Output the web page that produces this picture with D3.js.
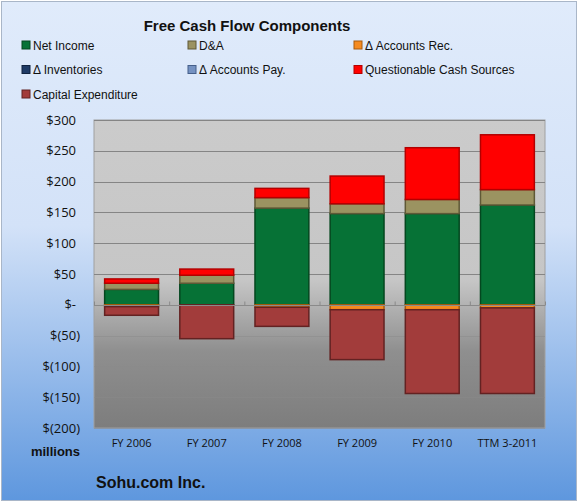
<!DOCTYPE html>
<html>
<head>
<meta charset="utf-8">
<script src="https://cdn.jsdelivr.net/npm/d3@7"></script>
<style>
  body { margin: 0; background: #fff; }
  svg { display: block; font-family: "Liberation Sans", Arial, sans-serif; }
</style>
</head>
<body>
<script>
const width = 578;
const height = 502;

// data, $ millions
const periods = ["FY 2006", "FY 2007", "FY 2008", "FY 2009", "FY 2010", "TTM 3-2011"];
const netIncome = [25, 35, 157, 148, 148, 162];
const depAmort = [10, 13, 17, 16, 23, 25];
const accountsRec = [-3, 0, -4, -8, -8, -5];
const inventories = [0, 0, 0, 0, 0, 0];
const accountsPay = [0, 0, 0, 0, 0, 0];
const questionable = [7, 10, 15, 45, 84, 89];
const capex = [-14, -55, -31, -81, -136, -139];
const yTicks = [-200, -150, -100, -50, 0, 50, 100, 150, 200, 250, 300];

const seriesNames = ["Net Income", "D&A", "\u0394 Accounts Rec.", "\u0394 Inventories",
  "\u0394 Accounts Pay.", "Questionable Cash Sources", "Capital Expenditure"];
const seriesValues = [netIncome, depAmort, accountsRec, inventories, accountsPay, questionable, capex];
const colors = ["#067236", "#9b9361", "#f58a1f", "#1f3b66", "#7592c2", "#ff0000", "#a23c3b"];
const strokes = ["#04471f", "#5f5937", "#a85a0c", "#10223f", "#455f8a", "#b30000", "#632222"];

const rows = periods.map((p, i) => {
  const r = { period: p };
  seriesNames.forEach((s, j) => r[s] = seriesValues[j][i]);
  return r;
});

const plot = { left: 94, right: 545, top: 120, bottom: 428 };

const svg = d3.select("body").append("svg")
  .attr("width", width).attr("height", height);

const defs = svg.append("defs");
const bg = defs.append("linearGradient").attr("id", "bg")
  .attr("x1", 0).attr("y1", 0).attr("x2", 0).attr("y2", 1);
bg.append("stop").attr("offset", "0%").attr("stop-color", "#e0ebfb");
bg.append("stop").attr("offset", "45%").attr("stop-color", "#d3e2f8");
bg.append("stop").attr("offset", "100%").attr("stop-color", "#5e97de");

const pg = defs.append("linearGradient").attr("id", "pg")
  .attr("x1", 0).attr("y1", 0).attr("x2", 0).attr("y2", 1);
pg.append("stop").attr("offset", "0%").attr("stop-color", "#cbcbcb");
pg.append("stop").attr("offset", "52%").attr("stop-color", "#c6c6c6");
pg.append("stop").attr("offset", "75%").attr("stop-color", "#8f8f8f");
pg.append("stop").attr("offset", "100%").attr("stop-color", "#7d7d7d");

svg.append("rect").attr("x", 1.5).attr("y", 1.5)
  .attr("width", width - 3).attr("height", height - 3)
  .attr("fill", "url(#bg)").attr("stroke", "#a9b6c8");

const x = d3.scaleBand().domain(periods)
  .range([plot.left, plot.right]).paddingInner(0.27).paddingOuter(0.135);
const y = d3.scaleLinear().domain([-200, 300]).range([plot.bottom, plot.top]);

svg.append("rect")
  .attr("x", plot.left).attr("y", plot.top)
  .attr("width", plot.right - plot.left).attr("height", plot.bottom - plot.top)
  .attr("fill", "url(#pg)").attr("stroke", "#a0a0a0");

// gridlines
svg.append("g").selectAll("line").data(yTicks.filter(t => t !== 0)).join("line")
  .attr("x1", plot.left).attr("x2", plot.right)
  .attr("y1", d => Math.round(y(d)) + 0.5).attr("y2", d => Math.round(y(d)) + 0.5)
  .attr("stroke", d => d > 0 ? "#858585" : "#8a8a8a")
  .attr("stroke-opacity", d => d > 0 ? 1 : 0.5);

// y axis labels (accounting style: positives leave room for the closing paren)
const fmt = d => d === 0 ? "$-" : d < 0 ? "$(" + (-d) + ")" : "$" + d;
const yAxis = d3.axisLeft(y).tickValues(yTicks).tickFormat(fmt).tickSize(0).tickPadding(14);
svg.append("g").attr("transform", "translate(" + plot.left + ",0)").call(yAxis)
  .call(g => g.select(".domain").remove())
  .call(g => g.selectAll("text").attr("font-size", 13).attr("fill", "#111")
    .attr("font-family", "'Open Sans', sans-serif")
    .attr("dx", d => d < 0 ? 0 : -4));

// stacked bars
const stack = d3.stack().keys(seriesNames).offset(d3.stackOffsetDiverging);
const layers = stack(rows);

svg.append("g").selectAll("g").data(layers).join("g")
  .attr("fill", (d, i) => colors[i])
  .attr("stroke", (d, i) => strokes[i])
  .selectAll("rect").data(d => d.filter(v => v[1] - v[0] !== 0)).join("rect")
  .attr("x", d => x(d.data.period) + 0.5)
  .attr("y", d => y(d[1]))
  .attr("width", x.bandwidth() - 1)
  .attr("height", d => y(d[0]) - y(d[1]))
  .attr("stroke-width", 1.5);

// zero axis with category ticks
const zeroY = Math.round(y(0)) + 0.5;
svg.append("line").attr("x1", plot.left).attr("x2", plot.right)
  .attr("y1", zeroY).attr("y2", zeroY).attr("stroke", "#8a8a8a");
svg.append("g").selectAll("line").data(d3.range(periods.length + 1)).join("line")
  .attr("x1", i => plot.left + i * x.step() + 0.5)
  .attr("x2", i => plot.left + i * x.step() + 0.5)
  .attr("y1", zeroY).attr("y2", zeroY - 4).attr("stroke", "#8a8a8a");

// x labels
const xAxis = d3.axisBottom(x).tickSize(0).tickPadding(11);
svg.append("g").attr("transform", "translate(0," + plot.bottom + ")").call(xAxis)
  .call(g => g.select(".domain").remove())
  .call(g => g.selectAll("text").attr("font-size", 11).attr("fill", "#111")
    .attr("font-family", "'Open Sans', sans-serif"));

// titles
svg.append("text").attr("x", 247).attr("y", 31).attr("text-anchor", "middle")
  .attr("font-size", 15).attr("font-weight", "bold").attr("fill", "#111")
  .text("Free Cash Flow Components");
svg.append("text").attr("x", 80).attr("y", 456).attr("text-anchor", "end")
  .attr("font-size", 13).attr("font-weight", "bold").attr("fill", "#111")
  .text("millions");
svg.append("text").attr("x", 96).attr("y", 488)
  .attr("font-size", 16).attr("font-weight", "bold").attr("fill", "#111")
  .text("Sohu.com Inc.");

// legend
const legend = svg.append("g").selectAll("g").data(seriesNames).join("g")
  .attr("transform", (d, i) => "translate(" + [22, 188, 354][i % 3] + "," + (45 + Math.floor(i / 3) * 24.5) + ")");
legend.append("rect").attr("x", 0).attr("y", -4).attr("width", 8).attr("height", 8)
  .attr("fill", (d, i) => colors[i]).attr("stroke", (d, i) => strokes[i]);
legend.append("text").attr("x", 11).attr("y", 4.5)
  .attr("font-size", 12).attr("fill", "#111")
  .text(d => d);
</script>
</body>
</html>
